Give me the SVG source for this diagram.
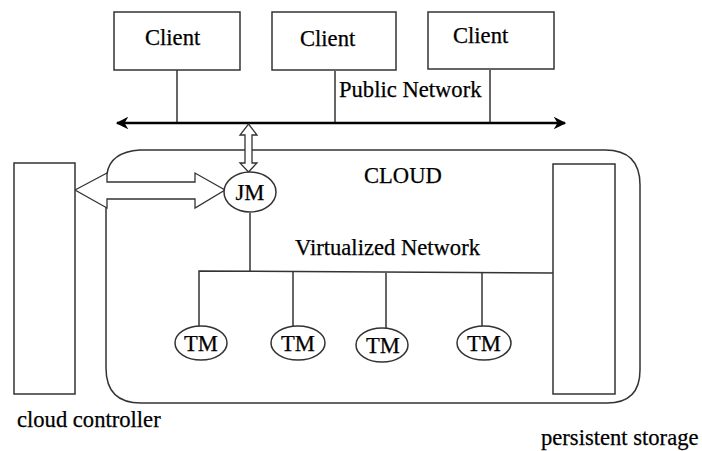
<svg xmlns="http://www.w3.org/2000/svg" width="702" height="451" viewBox="0 0 702 451">
<defs>
<style>
text{font-family:"Liberation Serif","Times New Roman",serif;font-size:22.6px;fill:#000;stroke:#000;stroke-width:0.25}
.box{fill:#fff;stroke:#333;stroke-width:1.5}
.ln{fill:none;stroke:#333;stroke-width:1.5}
.hollow{fill:#fff;stroke:#333;stroke-width:1.3;stroke-linejoin:miter}
.mid{text-anchor:middle}
</style>
<marker id="ah" viewBox="0 0 10 10" refX="9" refY="5" markerWidth="5" markerHeight="5" orient="auto-start-reverse" markerUnits="strokeWidth">
<path d="M0,0 L10,5 L0,10 L3,5 Z" fill="#000"/>
</marker>
</defs>
<rect width="702" height="451" fill="#fff"/>

<g id="cloud">
<path class="ln" d="M106 199 V368 Q106 403 141 403 H607 Q640 403 640 370 V185 Q640 150 605 150 H140 Q110 152 107 174"/>
<text x="364" y="183">CLOUD</text>
</g>

<g id="connectors">
<line x1="177" y1="70" x2="177" y2="122" class="ln"/>
<line x1="335" y1="71" x2="335" y2="122" class="ln"/>
<line x1="490" y1="70" x2="490" y2="122" class="ln"/>
<line x1="117" y1="123" x2="565" y2="123" stroke="#000" stroke-width="2.5" marker-start="url(#ah)" marker-end="url(#ah)"/>
<polygon class="hollow" points="248.5,124 257,135 252,135 252,163 257,163 248.5,172 240,163 245,163 245,135 240,135"/>
<polygon class="hollow" points="75,190 107,173 107,182 195,182 195,173 225,190 195,208 195,199 107,199 107,208"/>
<line x1="250" y1="213" x2="250" y2="271" class="ln"/>
<polyline class="ln" points="199,327 199,271 553,273"/>
<line x1="293" y1="272" x2="293" y2="326" class="ln"/>
<line x1="386" y1="273" x2="386" y2="328" class="ln"/>
<line x1="482" y1="273" x2="482" y2="326" class="ln"/>
<text x="295" y="255">Virtualized Network</text>
<text x="339" y="97">Public Network</text>
</g>

<g id="client1"><rect class="box" x="114" y="12" width="126" height="58"/><text x="145" y="45">Client</text></g>
<g id="client2"><rect class="box" x="272" y="12" width="124" height="58"/><text x="300" y="46">Client</text></g>
<g id="client3"><rect class="box" x="428" y="12" width="126" height="57"/><text x="453" y="43">Client</text></g>

<g id="jm"><ellipse class="box" cx="250" cy="192" rx="26" ry="20"/><text class="mid" x="250" y="200">JM</text></g>

<g id="tm1"><ellipse class="box" cx="201" cy="343" rx="26" ry="17"/><text class="mid" x="201" y="351">TM</text></g>
<g id="tm2"><ellipse class="box" cx="298" cy="343" rx="27" ry="17"/><text class="mid" x="298" y="351">TM</text></g>
<g id="tm3"><ellipse class="box" cx="382" cy="345" rx="26" ry="17"/><text class="mid" x="383" y="353">TM</text></g>
<g id="tm4"><ellipse class="box" cx="484" cy="343" rx="27" ry="17"/><text class="mid" x="484" y="351">TM</text></g>

<g id="cloud-controller"><rect class="box" x="14" y="163" width="61" height="231"/><text x="17" y="427">cloud controller</text></g>
<g id="persistent-storage"><rect class="box" x="553" y="164" width="62" height="230"/><text x="541" y="445">persistent storage</text></g>
</svg>
